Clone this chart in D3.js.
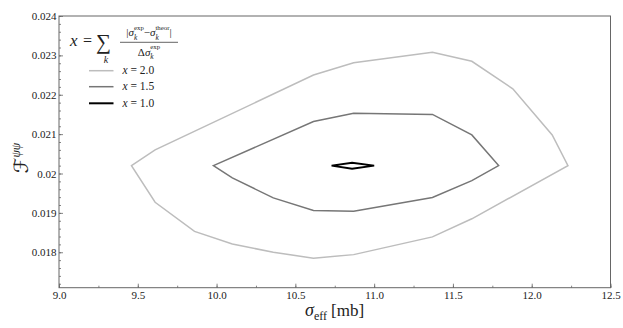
<!DOCTYPE html>
<html><head><meta charset="utf-8">
<script src="https://cdn.jsdelivr.net/npm/d3@7"></script>
<style>
html,body{margin:0;padding:0;background:#fff;}
svg{display:block;}
text{font-family:"Liberation Serif","DejaVu Serif",serif;fill:#222;}
</style></head>
<body>
<svg id="c" width="623" height="328"></svg>
<script>
// ---- data ----
const xDomain = [9.0, 12.5];
const yDomain = [0.0171, 0.024];
const xTicks = [9.0, 9.5, 10.0, 10.5, 11.0, 11.5, 12.0, 12.5];
const xTickLabels = ["9.0","9.5","10.0","10.5","11.0","11.5","12.0","12.5"];
const yTicks = [0.018, 0.019, 0.020, 0.021, 0.022, 0.023, 0.024];
const yTickLabels = ["0.018","0.019","0.02","0.021","0.022","0.023","0.024"];
const seriesNames = ["x = 2.0", "x = 1.5", "x = 1.0"];
const seriesLevels = ["2.0", "1.5", "1.0"];
const seriesColors = ["#bdbdbd", "#767676", "#000000"];
const contour20 = [[9.46,0.0202],[9.61,0.0206],[10.615,0.0225],[10.87,0.02281],[11.37,0.02308],[11.62,0.02285],[11.88,0.02215],[12.13,0.02098],[12.23,0.0202],[11.62,0.01885],[11.37,0.01839],[10.87,0.01794],[10.615,0.01785],[10.36,0.018],[10.10,0.01821],[9.86,0.01853],[9.61,0.01927]];
const contour15 = [[9.98,0.0202],[10.615,0.02132],[10.87,0.02153],[11.37,0.0215],[11.62,0.02098],[11.79,0.0202],[11.62,0.01982],[11.37,0.01939],[10.87,0.01904],[10.615,0.01906],[10.36,0.01938],[10.10,0.01989]];
const contour10 = [[10.73,0.0202],[10.86,0.02027],[11.00,0.0202],[10.86,0.02012]];
const contours = [contour20, contour15, contour10];

// ---- layout ----
const L = 59, R = 610.5, T = 16, B = 287.7;
const svg = d3.select("#c");
const x = d3.scaleLinear().domain(xDomain).range([L, R]);
const y = d3.scaleLinear().domain(yDomain).range([B, T]);

// minor ticks
const xMinor = d3.range(9.0, 12.5001, 0.25);
const yMinor = d3.range(0.0172, 0.02401, 0.0002);

const axCol = "#666";
function styleAxis(g){
  g.select(".domain").remove();
  g.selectAll("line").attr("stroke", axCol).attr("stroke-width", 0.8);
  g.selectAll("text").attr("font-family", '"Liberation Serif","DejaVu Serif",serif').attr("font-size", 11).attr("fill", "#444");
}
svg.append("g").attr("transform", `translate(0,${B})`)
  .call(d3.axisBottom(x).tickValues(xMinor).tickSizeInner(-2).tickSizeOuter(0).tickFormat(""))
  .call(styleAxis);
svg.append("g").attr("transform", `translate(${L},0)`)
  .call(d3.axisLeft(y).tickValues(yMinor).tickSizeInner(-2).tickSizeOuter(0).tickFormat(""))
  .call(styleAxis);
svg.append("g").attr("transform", `translate(0,${B})`)
  .call(d3.axisBottom(x).tickValues(xTicks).tickSizeInner(-4).tickSizeOuter(0).tickPadding(4)
    .tickFormat((d,i)=>xTickLabels[i]))
  .call(styleAxis);
svg.append("g").attr("transform", `translate(${L},0)`)
  .call(d3.axisLeft(y).tickValues(yTicks).tickSizeInner(-4).tickSizeOuter(0).tickPadding(2.5)
    .tickFormat((d,i)=>yTickLabels[i]))
  .call(styleAxis);

// frame
svg.append("rect").attr("x", L).attr("y", T).attr("width", R-L).attr("height", B-T)
  .attr("fill","none").attr("stroke", axCol).attr("stroke-width", 1);

// contours
const line = d3.line().x(d=>x(d[0])).y(d=>y(d[1])).curve(d3.curveLinearClosed);
const widths = [1.5, 1.5, 2];
contours.forEach((c,i)=>{
  svg.append("path").attr("d", line(c)).attr("fill","none")
    .attr("stroke", seriesColors[i]).attr("stroke-width", widths[i]).attr("stroke-linejoin","miter");
});

// ---- legend ----
const lg = svg.append("g");
function txt(xp, yp, s, size, italic, anchor){
  const t = lg.append("text").attr("x", xp).attr("y", yp).attr("font-size", size)
    .attr("font-style", italic ? "italic" : "normal").text(s);
  if (anchor) t.attr("text-anchor", anchor);
  return t;
}
function w(t){ return t.node().getComputedTextLength(); }
// formula: x = sum_k |σ_k^exp − σ_k^theor| / Δσ_k^exp
txt(70, 46, "x", 17, true);
txt(83, 46, "=", 16, false);
txt(96, 49, "∑", 21, false).attr("font-family", '"DejaVu Serif",serif');
txt(106, 63, "k", 10, true, "middle");

function run(x0, base, size, parts){
  let cx = x0;
  parts.forEach(p=>{
    if (p.t !== undefined){
      const t = txt(cx, base, p.t, size, p.italic);
      cx += w(t);
    } else {
      const s1 = txt(cx, base + size*0.36, p.sub, size*0.68, true);
      const s2 = txt(cx, base - size*0.56, p.sup, size*0.62, false);
      cx += Math.max(w(s1), w(s2));
    }
  });
  return cx - x0;
}
const numParts = [{t:"|"},{t:"σ",italic:true},{sub:"k",sup:"exp"},{t:"−"},{t:"σ",italic:true},{sub:"k",sup:"theor"},{t:"|"}];
const denParts = [{t:"Δ"},{t:"σ",italic:true},{sub:"k",sup:"exp"}];
// measure widths off-canvas, then remove
const numW = run(0, -100, 11, numParts);
const denW = run(0, -100, 11, denParts);
lg.selectAll("text").filter(function(){ return +this.getAttribute("y") < -50; }).remove();
const fx0 = 120, fx1 = 178, fc = (fx0+fx1)/2;
run(fc - numW/2, 36, 11, numParts);
lg.append("line").attr("x1", fx0).attr("x2", fx1).attr("y1", 42.3).attr("y2", 42.3)
  .attr("stroke", "#222").attr("stroke-width", 0.7);
run(fc - denW/2, 55.5, 11, denParts);

const legY = [70.7, 86.7, 103.3];
seriesNames.forEach((n,i)=>{
  lg.append("line").attr("x1", 89).attr("x2", 113.5).attr("y1", legY[i]).attr("y2", legY[i])
    .attr("stroke", seriesColors[i]).attr("stroke-width", i===2 ? 2 : 1.5);
  const t = lg.append("text").attr("x", 122.5).attr("y", legY[i] + 3.6).attr("font-size", 11.5);
  t.append("tspan").attr("font-style","italic").text("x");
  t.append("tspan").text(" = " + seriesLevels[i]);
});

// ---- axis titles ----
const xl = svg.append("text").attr("x", 305).attr("y", 316).attr("font-size", 18);
xl.append("tspan").attr("font-style","italic").text("σ");
xl.append("tspan").attr("font-size", 12).attr("dy", 4).text("eff");
xl.append("tspan").attr("font-size", 17).attr("dy", -4).attr("dx", 4).text("[mb]");

const yl = svg.append("text").attr("transform", "translate(28,158) rotate(-90)")
  .attr("text-anchor", "middle").attr("font-size", 20);
yl.append("tspan").attr("font-family", '"DejaVu Serif","DejaVu Sans",serif').attr("font-style","italic").text("ℱ");
yl.append("tspan").attr("font-size", 12).attr("font-style","italic").attr("dy", -8).text("ψψ");
</script>
</body></html>
